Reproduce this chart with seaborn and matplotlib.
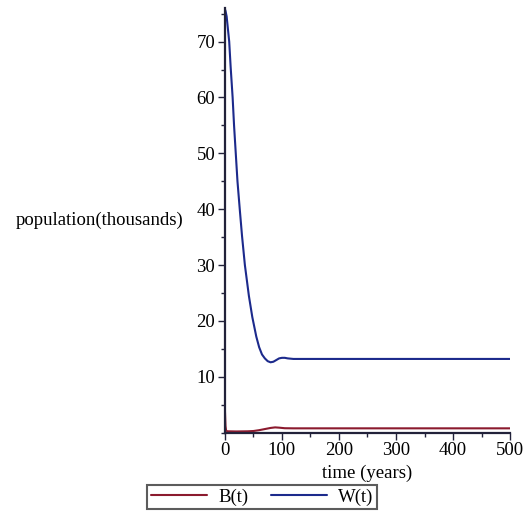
import numpy as np
import pandas as pd
import matplotlib
matplotlib.use("Agg")
import matplotlib.pyplot as plt
import seaborn as sns
from matplotlib.ticker import MultipleLocator, FixedLocator

# values
t_B = [0, 1, 2, 4, 20, 40, 50, 60, 70, 80, 88, 95, 105, 120, 500]
B_vals = [4.0, 1.2, 0.4, 0.25, 0.22, 0.25, 0.3, 0.45, 0.65, 0.85, 0.95, 0.9, 0.8, 0.78, 0.78]

t_W = [0, 1, 3, 5, 7.5, 10, 13.5, 16, 19, 22, 26, 30, 35, 42, 48, 55, 60, 65, 70,
       75, 80, 85, 90, 95, 100, 105, 110, 120, 140, 500]
W_vals = [75.8, 75.5, 74.5, 72.5, 70, 65.5, 60, 55, 50, 45, 40, 35.2, 30, 24.5, 20.7,
          17.2, 15.3, 14.0, 13.3, 12.8, 12.6, 12.7, 13.0, 13.3, 13.4, 13.4, 13.3, 13.2,
          13.2, 13.2]

series_names = ["B(t)", "W(t)"]
series_colors = ["#8b1a2e", "#1c2a8c"]

df = pd.concat([
    pd.DataFrame({"t": t_B, "value": B_vals, "series": series_names[0]}),
    pd.DataFrame({"t": t_W, "value": W_vals, "series": series_names[1]}),
])

sns.set_style("white")
plt.rcParams["font.family"] = ["Liberation Serif", "DejaVu Serif"]
plt.rcParams["text.color"] = "black"
plt.rcParams["axes.labelcolor"] = "black"
plt.rcParams["xtick.color"] = "black"
plt.rcParams["ytick.color"] = "black"

fig = plt.figure(figsize=(5.28, 5.21), dpi=100)
ax = fig.add_axes([0.426, 0.1695, 0.540, 0.815])

sns.lineplot(data=df, x="t", y="value", hue="series",
             palette=dict(zip(series_names, series_colors)),
             linewidth=1.5, ax=ax, legend=False, sort=True)

ax.set_xlim(0, 500)
ax.set_ylim(0, 76)

axis_col = "#22223a"
for s in ["top", "right"]:
    ax.spines[s].set_visible(False)
for s in ["left", "bottom"]:
    ax.spines[s].set_color(axis_col)
    ax.spines[s].set_linewidth(1.6)

ax.xaxis.set_major_locator(MultipleLocator(100))
ax.xaxis.set_minor_locator(MultipleLocator(50))
ax.yaxis.set_major_locator(FixedLocator([10, 20, 30, 40, 50, 60, 70]))
ax.yaxis.set_minor_locator(MultipleLocator(5))
ax.tick_params(which="both", direction="out", color=axis_col, width=1,
               labelsize=13.5, labelcolor="black", left=True, bottom=True)
ax.tick_params(which="major", length=5, pad=2)
ax.tick_params(which="minor", length=3)

ax.set_xlabel("time (years)", fontsize=13.5)
ax.xaxis.set_label_coords(0.5, -0.095)
ax.xaxis.label.set_va("center")
ax.set_ylabel("population(thousands)", fontsize=13.5, rotation=0,
              ha="right", va="center")
ax.yaxis.set_label_coords(-0.147, 0.5)

handles = [plt.Line2D([], [], color=c, linewidth=1.5) for c in series_colors]
leg = fig.legend(handles, series_names, loc="center", ncol=2,
                 bbox_to_anchor=(262 / 528, 1 - 497 / 521), fontsize=13.5,
                 frameon=True, fancybox=False, edgecolor="#333333",
                 handlelength=3.0, handletextpad=0.6, columnspacing=1.2,
                 borderpad=0.2)
leg.get_frame().set_linewidth(1.5)

fig.savefig("out.png", dpi=100)
